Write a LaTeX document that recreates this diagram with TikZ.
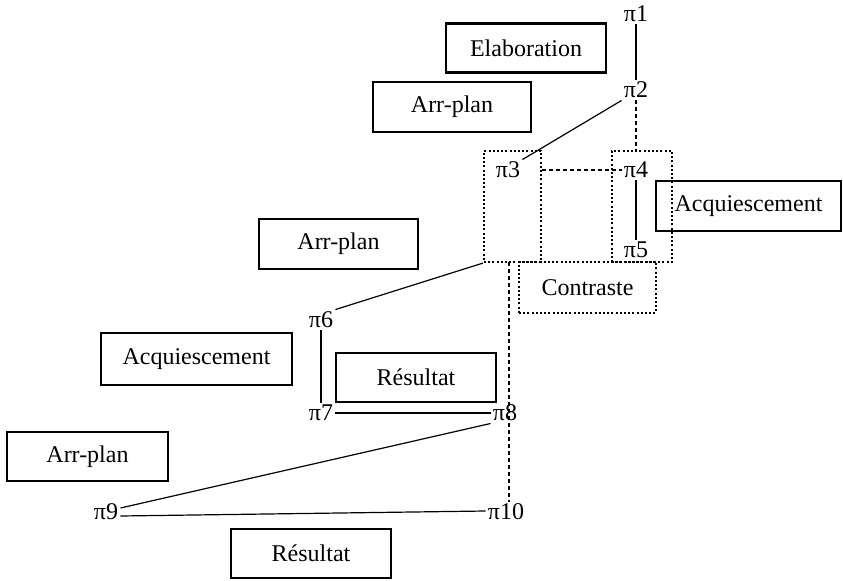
\documentclass[tikz,border=0pt]{standalone}
\usepackage{fontspec}
\setmainfont{Liberation Serif}
\begin{document}
\begin{tikzpicture}[x=0.5pt,y=-0.5pt,
  font=\fontsize{12pt}{14pt}\selectfont,
  relbox/.style={draw,line width=1.1pt,inner sep=0pt,minimum height=24.5pt},
  dotbox/.style={draw,line width=1.1pt,dash pattern=on 1pt off 1.1pt,inner sep=0pt},
  pilab/.style={inner sep=1pt},
  link/.style={line width=0.6pt},
  dlink/.style={line width=0.6pt,dash pattern=on 2pt off 1.5pt}]
\useasboundingbox (0,0) rectangle (843,580);
% relation boxes
\node[relbox,minimum width=80pt] (elab) at (526,48) {Elaboration};
\node[relbox,minimum width=79pt,minimum height=25pt] (ap1) at (452,107) {Arr-plan};
\node[relbox,minimum width=79.5pt,minimum height=25pt] (ap2) at (338.5,244) {Arr-plan};
\node[relbox,minimum width=92.5pt,minimum height=25pt] (acq1) at (748.5,206) {Acquiescement};
\node[relbox,minimum width=95.5pt,minimum height=26pt] (acq2) at (196.5,359) {Acquiescement};
\node[relbox,minimum width=80pt] (res1) at (416,377.5) {Résultat};
\node[relbox,minimum width=80.5pt] (ap3) at (87.5,456.5) {Arr-plan};
\node[relbox,minimum width=80pt] (res2) at (311,553.5) {Résultat};
% dotted grouping boxes
\node[dotbox,minimum width=28.5pt,minimum height=55.5pt] (box3) at (512.5,206.5) {};
\node[dotbox,minimum width=30pt,minimum height=55.5pt] (box4) at (642,206.5) {};
\node[dotbox,minimum width=68.5pt,minimum height=25.5pt] (contr) at (587.5,287.5) {Contraste};
% discourse units
\node[pilab] (p1) at (636,14) {π1};
\node[pilab] (p2) at (636,90) {π2};
\node[pilab] (p3) at (508,170) {π3};
\node[pilab] (p4) at (636,170) {π4};
\node[pilab] (p5) at (636,250) {π5};
\node[pilab] (p6) at (321,320) {π6};
\node[pilab] (p7) at (321,413) {π7};
\node[pilab] (p8) at (505,413) {π8};
\node[pilab] (p9) at (106,512) {π9};
\node[pilab] (p10) at (506,512) {π10};
\coordinate (dtop) at (509,262);
% connectors
\draw[link] (p1.south) -- (p2.north);
\draw[link] (p2.south west) -- (p3.north east);
\draw[dlink] (p2.south) -- (p2.south |- box4.north);
\draw[dlink] (box3.east |- p3) -- (p4.west);
\draw[link] (p4.south) -- (p5.north);
\draw[link] (box3.south west) -- (p6.north east);
\draw[link] (p6.south) -- (p7.north);
\draw[link] (p7.east) -- (p8.west);
\draw[link] (p8.south west) -- ([yshift=2pt]p9.east);
\draw[link] ([yshift=-2pt]p9.east) -- ([yshift=0.5pt]p10.west);
\draw[dlink] (dtop) -- (dtop |- p10.north);
\end{tikzpicture}
\end{document}
